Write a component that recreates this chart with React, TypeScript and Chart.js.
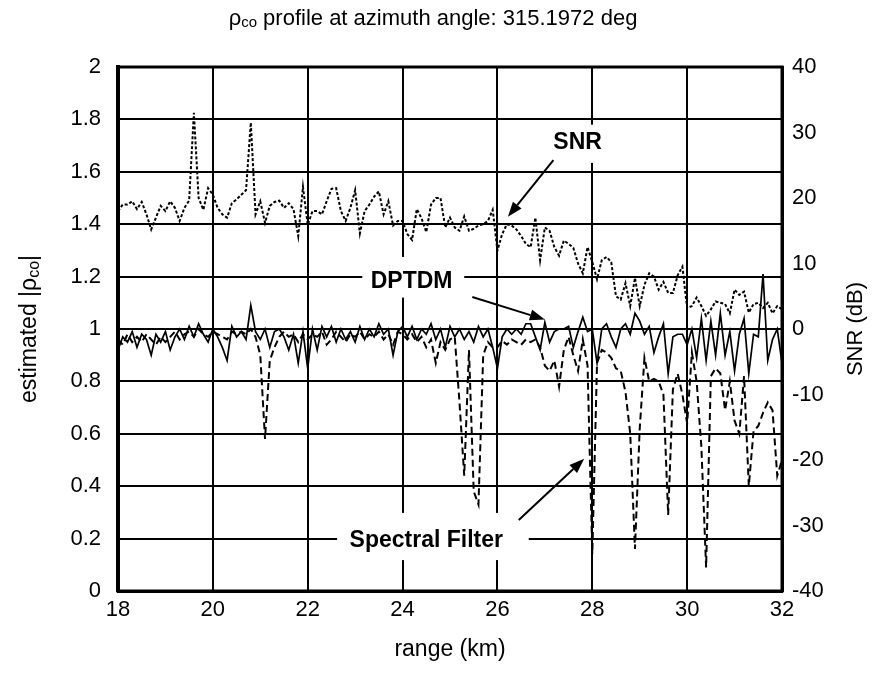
import React, { useEffect, useRef } from "react";
import { Chart, registerables } from "chart.js";

Chart.register(...registerables);

// ---- data ----
const rangeStartKm = 18;
const rangeStepKm = 0.1;

// SNR (dB), right axis, sampled every 0.1 km from 18 to 32 km
const snrDb = [
  18.0, 19.0, 19.0, 19.5, 18.3, 19.4, 17.5, 15.2, 17.0, 18.8,
  18.0, 19.5, 18.5, 16.5, 18.5, 19.6, 33.0, 20.0, 18.2, 21.5,
  20.5, 18.5, 17.5, 17.0, 19.2, 19.8, 20.5, 21.2, 31.5, 17.5,
  19.5, 16.2, 18.8, 19.4, 19.6, 18.5, 19.2, 18.3, 14.2, 21.7,
  15.9, 18.0, 18.0, 17.5, 19.5, 21.4, 21.5, 18.0, 16.5, 18.5,
  21.2, 14.6, 18.0, 19.0, 20.2, 21.0, 17.5, 19.5, 15.8, 16.5,
  16.5, 14.5, 13.6, 18.3, 16.9, 14.8, 19.0, 20.0, 20.0, 15.5,
  17.0, 15.5, 15.0, 17.2, 15.0, 15.3, 15.8, 16.0, 16.5, 18.2,
  12.0, 14.5, 16.0, 15.8, 15.2, 14.2, 13.0, 12.5, 17.0, 10.5,
  15.5, 15.0, 12.5, 11.2, 13.5, 13.0, 12.4, 10.0, 8.5, 12.5,
  10.25, 7.6, 10.5, 11.0, 10.2, 5.0, 4.5, 7.0, 3.5, 7.8,
  3.5, 6.75, 8.5, 8.0, 6.0, 7.2, 5.5, 5.5, 8.2, 9.5,
  3.2, 3.5, 4.8, 3.5, 2.0, 3.0, 4.2, 4.0, 3.8, 2.4,
  6.0, 5.2, 5.7, 2.5, 3.8, 4.0, 3.2, 4.0, 2.4, 3.5,
  3.0,
];

// DPTDM estimated |rho_co|, left axis
const dptdmRho = [
  0.92, 0.97, 0.95, 0.99, 0.93, 0.98, 0.96, 0.90, 0.98, 0.95,
  0.99, 0.92, 0.97, 1.00, 0.96, 1.01, 0.97, 1.02, 0.98, 0.95,
  1.00, 0.97, 0.93, 0.88, 1.01, 0.97, 0.99, 0.96, 1.09, 0.99,
  0.96, 1.00, 0.93, 0.99, 1.00, 0.97, 0.92, 0.98, 0.87, 0.99,
  0.85, 1.00, 0.92, 1.01, 0.97, 1.01, 0.95, 1.00, 0.96, 0.99,
  0.95, 1.01, 0.96, 1.00, 0.97, 1.02, 0.98, 1.00, 0.90, 0.99,
  1.01, 0.97, 1.01, 0.96, 1.00, 0.98, 1.02, 0.96, 1.00, 0.93,
  1.01, 0.97, 1.00, 0.96, 0.99, 0.95, 1.01, 0.97, 1.00, 0.93,
  0.85, 0.97, 1.00, 0.98, 1.00, 0.98, 1.02, 1.02, 0.97, 0.92,
  1.025, 0.95, 0.99, 1.00, 1.00, 1.01, 0.93, 0.99, 1.045, 0.99,
  1.00, 0.87, 1.00, 1.02, 0.97, 0.93, 1.00, 1.02, 0.98, 1.06,
  1.03, 0.98, 1.01, 0.91, 0.97, 1.02, 0.83, 0.97, 0.98, 0.98,
  0.94, 1.00, 0.89, 1.04, 0.88, 1.03, 0.90, 1.06, 0.90, 0.99,
  0.84, 0.98, 1.04, 0.83, 0.98, 0.97, 1.21, 0.88, 0.96, 1.00,
  0.87,
];

// Spectral Filter estimated |rho_co|, left axis
const spectralRho = [
  0.96, 0.94, 0.98, 0.95, 0.97, 0.95, 0.98, 0.96, 0.94, 0.97,
  0.95, 0.97, 0.99, 0.96, 0.98, 0.99, 0.97, 1.00, 0.98, 0.97,
  0.99, 0.98, 0.97, 0.96, 0.99, 0.98, 0.99, 0.98, 1.00, 0.97,
  0.90, 0.58, 0.88, 0.93, 0.97, 0.99, 0.97, 0.98, 0.95, 0.98,
  0.96, 0.98, 0.97, 0.99, 0.94, 0.96, 0.99, 0.97, 0.95, 0.98,
  0.97, 0.99, 0.96, 0.98, 0.97, 0.99, 0.96, 0.98, 0.94, 0.99,
  0.98, 0.96, 0.98, 0.95, 0.97, 0.93, 0.96, 0.87, 0.95, 0.92,
  0.96, 0.97, 0.72, 0.44, 0.92, 0.38, 0.33, 0.90, 0.95, 0.93,
  0.93, 0.955, 0.94, 0.96, 0.95, 0.94, 0.96, 0.95, 0.96, 0.93,
  0.86, 0.84, 0.88, 0.78, 0.92, 0.97, 0.90, 0.84, 0.96, 0.86,
  0.14, 0.87, 0.92, 0.91, 0.89, 0.85, 0.84, 0.76, 0.60, 0.16,
  0.62, 0.89, 0.80, 0.81, 0.80, 0.75, 0.29, 0.77, 0.83, 0.75,
  0.64, 0.91, 0.80, 0.55, 0.09, 0.82, 0.85, 0.83, 0.69, 0.80,
  0.65, 0.60, 0.82, 0.40, 0.61, 0.63, 0.68, 0.72, 0.69, 0.44,
  0.50,
];

const xMin = 18;
const xMax = 32;
const xStep = 2;
const rhoMin = 0;
const rhoMax = 2;
const rhoStep = 0.2;
const snrMin = -40;
const snrMax = 40;
const snrStep = 10;

const seriesNames = ["SNR", "DPTDM", "Spectral Filter"];
const titleParts: [string, boolean][] = [["ρ", false], ["co", true], [" profile at azimuth angle: 315.1972 deg", false]];
const leftTitleParts: [string, boolean][] = [["estimated |ρ", false], ["co", true], ["|", false]];
const rightTitle = "SNR (dB)";
const xTitle = "range (km)";

// annotation layout (in data units: km, |rho|)
const labelBoxes = [
  { text: "SNR", cx: 27.69, cy: 1.71, box: [27.35, 28.4, 1.78, 1.634], from: [27.18, 1.645], to: [26.22, 1.428] },
  { text: "DPTDM", cx: 24.19, cy: 1.179, box: [23.15, 25.3, 1.275, 1.12], from: [25.47, 1.122], to: [27.0, 1.036] },
  { text: "Spectral Filter", cx: 24.5, cy: 0.191, box: [22.62, 26.66, 0.298, 0.118], from: [26.45, 0.271], to: [27.83, 0.505] },
];

const FONT = "'Liberation Sans', Arial, Helvetica, sans-serif";

const toPoints = (vals: number[]) =>
  vals.map((v, i) => ({ x: +(rangeStartKm + i * rangeStepKm).toFixed(2), y: v }));

function drawRich(ctx: CanvasRenderingContext2D, parts: [string, boolean][], x: number, y: number, size: number) {
  const subSize = Math.round(size * 0.68);
  let total = 0;
  const widths = parts.map(([t, sub]) => {
    ctx.font = `${sub ? subSize : size}px ${FONT}`;
    const w = ctx.measureText(t).width;
    total += w;
    return w;
  });
  let cx = x - total / 2;
  ctx.textAlign = "left";
  ctx.textBaseline = "middle";
  parts.forEach(([t, sub], i) => {
    ctx.font = `${sub ? subSize : size}px ${FONT}`;
    ctx.fillText(t, cx, sub ? y + size * 0.18 : y);
    cx += widths[i];
  });
}

const decorPlugin = {
  id: "decor",
  beforeDatasetsDraw(chart: any) {
    const ctx = chart.ctx as CanvasRenderingContext2D;
    const { left, right, top, bottom } = chart.chartArea;
    const xs = chart.scales.x;
    const ys = chart.scales.y;
    ctx.save();
    ctx.strokeStyle = "#000";
    ctx.lineWidth = 3;
    ctx.strokeRect(left, top, right - left, bottom - top);
    ctx.fillStyle = "#fff";
    labelBoxes.forEach((a) => {
      const x0 = xs.getPixelForValue(a.box[0]);
      const x1 = xs.getPixelForValue(a.box[1]);
      const y0 = ys.getPixelForValue(a.box[2]);
      const y1 = ys.getPixelForValue(a.box[3]);
      ctx.fillRect(x0, y0, x1 - x0, y1 - y0);
    });
    ctx.restore();
  },
  afterDatasetsDraw(chart: any) {
    const ctx = chart.ctx as CanvasRenderingContext2D;
    const xs = chart.scales.x;
    const ys = chart.scales.y;
    ctx.save();
    ctx.fillStyle = "#000";
    ctx.strokeStyle = "#000";
    labelBoxes.forEach((a) => {
      ctx.font = `bold 23px ${FONT}`;
      ctx.textAlign = "center";
      ctx.textBaseline = "middle";
      ctx.fillText(a.text, xs.getPixelForValue(a.cx), ys.getPixelForValue(a.cy));
      const fx = xs.getPixelForValue(a.from[0]);
      const fy = ys.getPixelForValue(a.from[1]);
      const tx = xs.getPixelForValue(a.to[0]);
      const ty = ys.getPixelForValue(a.to[1]);
      const ang = Math.atan2(ty - fy, tx - fx);
      const hl = 15;
      const hw = 5.5;
      const bx = tx - hl * Math.cos(ang);
      const by = ty - hl * Math.sin(ang);
      ctx.lineWidth = 2;
      ctx.beginPath();
      ctx.moveTo(fx, fy);
      ctx.lineTo(bx, by);
      ctx.stroke();
      ctx.beginPath();
      ctx.moveTo(tx, ty);
      ctx.lineTo(bx + hw * Math.sin(ang), by - hw * Math.cos(ang));
      ctx.lineTo(bx - hw * Math.sin(ang), by + hw * Math.cos(ang));
      ctx.closePath();
      ctx.fill();
    });
    ctx.restore();
  },
  afterDraw(chart: any) {
    const ctx = chart.ctx as CanvasRenderingContext2D;
    const { left, right, top, bottom } = chart.chartArea;
    const midX = (left + right) / 2;
    const midY = (top + bottom) / 2;
    ctx.save();
    ctx.fillStyle = "#000";
    drawRich(ctx, titleParts, 433, 19, 22);
    ctx.font = `23px ${FONT}`;
    ctx.textAlign = "center";
    ctx.textBaseline = "middle";
    ctx.fillText(xTitle, midX, 650);
    ctx.save();
    ctx.translate(30, midY);
    ctx.rotate(-Math.PI / 2);
    drawRich(ctx, leftTitleParts, 0, 0, 23);
    ctx.restore();
    ctx.save();
    ctx.translate(856, midY);
    ctx.rotate(-Math.PI / 2);
    ctx.font = `22px ${FONT}`;
    ctx.textAlign = "center";
    ctx.textBaseline = "middle";
    ctx.fillText(rightTitle, 0, 0);
    ctx.restore();
    ctx.restore();
  },
};

export default function App() {
  const ref = useRef<HTMLCanvasElement | null>(null);
  useEffect(() => {
    if (!ref.current) return;
    const tickFont = { family: FONT, size: 22 };
    const chart = new Chart(ref.current, {
      type: "line",
      data: {
        datasets: [
          {
            label: seriesNames[0],
            data: toPoints(snrDb),
            yAxisID: "y1",
            borderColor: "#000",
            borderWidth: 2,
            borderDash: [3, 2],
            pointRadius: 0,
            tension: 0,
            fill: false,
          },
          {
            label: seriesNames[1],
            data: toPoints(dptdmRho),
            yAxisID: "y",
            borderColor: "#000",
            borderWidth: 1.7,
            pointRadius: 0,
            tension: 0,
            fill: false,
          },
          {
            label: seriesNames[2],
            data: toPoints(spectralRho),
            yAxisID: "y",
            borderColor: "#000",
            borderWidth: 2,
            borderDash: [7, 4],
            pointRadius: 0,
            tension: 0,
            fill: false,
          },
        ],
      },
      options: {
        responsive: false,
        animation: false,
        devicePixelRatio: 1,
        layout: { padding: { top: 67, left: 0, right: 0, bottom: 0 } },
        plugins: {
          legend: { display: false },
          title: { display: false },
          tooltip: { enabled: false },
        },
        scales: {
          x: {
            type: "linear",
            min: xMin,
            max: xMax,
            ticks: { stepSize: xStep, font: tickFont, color: "#000", padding: 6, maxRotation: 0 },
            grid: { color: "#000", lineWidth: 2, drawTicks: false },
            border: { color: "#000", width: 3 },
            afterFit: (s: any) => { s.height = 86; },
          },
          y: {
            type: "linear",
            position: "left",
            min: rhoMin,
            max: rhoMax,
            ticks: {
              stepSize: rhoStep,
              font: tickFont,
              color: "#000",
              padding: 17,
              callback: (v: any) => String(Math.round(Number(v) * 10) / 10),
            },
            grid: { color: "#000", lineWidth: 2, drawTicks: false },
            border: { color: "#000", width: 4 },
            afterFit: (s: any) => { s.width = 118; },
          },
          y1: {
            type: "linear",
            position: "right",
            min: snrMin,
            max: snrMax,
            ticks: { stepSize: snrStep, font: tickFont, color: "#000", padding: 10 },
            grid: { display: false, drawTicks: false },
            border: { color: "#000", width: 3 },
            afterFit: (s: any) => { s.width = 98; },
          },
        },
      },
      plugins: [decorPlugin],
    } as any);
    return () => chart.destroy();
  }, []);
  return (
    <div style={{ position: "absolute", left: 0, top: 0, width: 880, height: 677, background: "#fff" }}>
      <canvas ref={ref} width={880} height={677} style={{ display: "block" }} />
    </div>
  );
}
